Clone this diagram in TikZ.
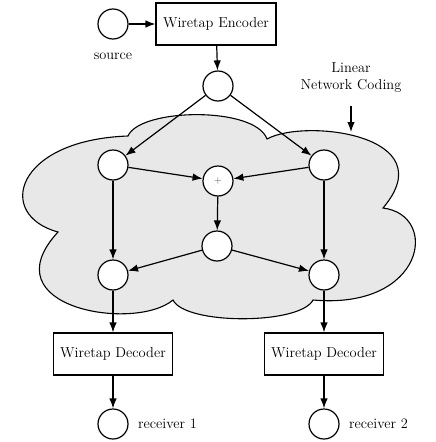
\documentclass[tikz,border=0pt]{standalone}
\usetikzlibrary{arrows.meta}
\begin{document}
\begin{tikzpicture}[x=1pt,y=-1pt,
  every node/.style={font=\fontsize{14.4}{17}\selectfont},
  nd/.style={circle,draw,fill=white,line width=1.2pt,minimum size=30pt,inner sep=0pt},
  blk/.style={rectangle,draw,fill=white,line width=1.2pt,minimum height=42pt,inner xsep=7pt},
  lbl/.style={inner sep=0pt},
  arr/.style={line width=1.2pt,-{Latex[length=10pt,width=7.5pt]}}]
\useasboundingbox (0,0) rectangle (436,442);
% cloud
\draw[line width=1.1pt,fill=black!9]
  (128,136) .. controls (140,108) and (255,106) .. (267,139)
  .. controls (305,118) and (445,135) .. (383,208)
  .. controls (440,215) and (425,310) .. (313,300)
  .. controls (300,325) and (185,325) .. (173,300)
  .. controls (135,332) and (-12,308) .. (58,232)
  .. controls (-5,215) and (15,140) .. (128,136) -- cycle;
% nodes
\node[nd] (src) at (113,24) {};
\node[lbl] (srcl) at (113,56) {source};
\node[blk,minimum width=119pt] (enc) at (216,24) {Wiretap Encoder};
\node[nd] (top) at (218,86) {};
\node[lbl,align=center] (lnc) at (351,78) {Linear\\Network Coding};
\coordinate (la) at (351,106);
\coordinate (lb) at (351,132);
\node[nd] (ul) at (113,165) {};
\node[nd] (ur) at (324,165) {};
\node[nd] (pl) at (218,181) {\fontsize{10}{12}\selectfont\textcolor{black!70}{$+$}};
\node[nd] (md) at (217,246) {};
\node[nd] (ll) at (113,275) {};
\node[nd] (lr) at (324,275) {};
\node[blk,minimum width=119pt] (d1) at (113,354) {Wiretap Decoder};
\node[blk,minimum width=119pt] (d2) at (324,354) {Wiretap Decoder};
\node[nd] (r1) at (113,424) {};
\node[nd] (r2) at (324,424) {};
\node[lbl,anchor=west] (r1l) at (138,424) {receiver 1};
\node[lbl,anchor=west] (r2l) at (349,424) {receiver 2};
% edges
\draw[arr] (src) -- (enc);
\draw[arr] (enc) -- (top);
\draw[arr] (top) -- (ul);
\draw[arr] (top) -- (ur);
\draw[arr] (ul) -- (pl);
\draw[arr] (ur) -- (pl);
\draw[arr] (pl) -- (md);
\draw[arr] (md) -- (ll);
\draw[arr] (md) -- (lr);
\draw[arr] (ul) -- (ll);
\draw[arr] (ur) -- (lr);
\draw[arr] (ll) -- (d1);
\draw[arr] (lr) -- (d2);
\draw[arr] (d1) -- (r1);
\draw[arr] (d2) -- (r2);
\draw[arr] (la) -- (lb);
\end{tikzpicture}
\end{document}
